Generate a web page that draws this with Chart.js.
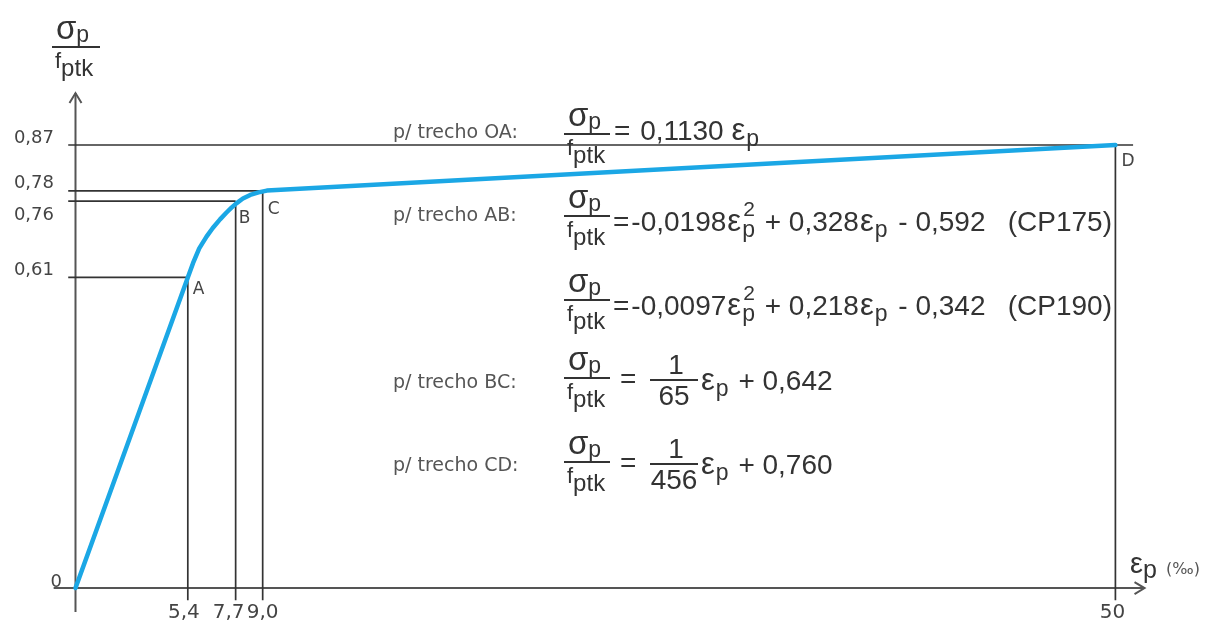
<!DOCTYPE html>
<html>
<head>
<meta charset="utf-8">
<script src="https://cdn.jsdelivr.net/npm/chart.js@4"></script>
<style>
  html, body { margin: 0; padding: 0; background: #fff; }
  #wrap { width: 1209px; height: 623px; }
</style>
</head>
<body>
<div id="wrap"><canvas id="c"></canvas></div>
<script>
// stress-strain curve (strain in per mille, stress ratio)
const curveX = [0, 5.4, 5.65, 5.95, 6.3, 6.6, 6.95, 7.25, 7.5, 7.75, 8.05, 8.4, 8.8, 9.2, 50];
const curveY = [0, 0.61, 0.638, 0.667, 0.69, 0.707, 0.724, 0.737, 0.747, 0.756, 0.765, 0.772, 0.777, 0.7805, 0.87];

// marked points
const pointNames = ['A', 'B', 'C', 'D'];
const pointX = [5.4, 7.7, 9.0, 50];
const pointY = [0.61, 0.76, 0.78, 0.87];

// tick labels
const xTickLabels = ['5,4', '7,7', '9,0', '50'];
const yTickLabels = ['0,61', '0,76', '0,78', '0,87'];
const originLabel = '0';

// equation texts
const sectionLabels = ['p/ trecho OA:', 'p/ trecho AB:', 'p/ trecho BC:', 'p/ trecho CD:'];
const coefOA = '0,1130';
const coefAB = ['-0,0198', '0,328', '0,592', '(CP175)'];
const coefAB2 = ['-0,0097', '0,218', '0,342', '(CP190)'];
const coefBC = ['65', '0,642'];
const coefCD = ['456', '0,760'];

const BLUE = '#1ba7e5';
const INK = '#333333';
const GREY = '#555555';
const SANS = '"Liberation Sans", Arial, sans-serif';
const DEJA = '"DejaVu Sans", sans-serif';

function line(x0, y0, x1, y1, color, width) {
  return {
    data: [{ x: x0, y: y0 }, { x: x1, y: y1 }],
    borderColor: color, borderWidth: width, pointRadius: 0,
    showLine: true, fill: false, order: 2
  };
}

const datasets = [{
  data: curveX.map((x, i) => ({ x: x, y: curveY[i] })),
  borderColor: BLUE, borderWidth: 4.5, pointRadius: 0,
  showLine: true, fill: false, tension: 0,
  borderJoinStyle: 'round', borderCapStyle: 'round', order: 0
}];

// guide lines from the axes to each point
pointX.forEach((x, i) => {
  datasets.push(line(-0.35, pointY[i], i === 3 ? 50.85 : x, pointY[i], INK, 1.7));
  datasets.push(line(x, -0.024, x, pointY[i], INK, 1.7));
});
// axes
datasets.push(line(-1.05, 0, 51.4, 0, GREY, 2));
datasets.push(line(0, -0.047, 0, 0.972, GREY, 2));

function font(ctx, size, fam) { ctx.font = size + 'px ' + (fam || SANS); }

function put(ctx, text, x, y, size, fam) {
  font(ctx, size, fam);
  ctx.fillText(text, x, y);
  return x + ctx.measureText(text).width;
}

function sigmaFrac(ctx, x, B, w) {
  ctx.fillRect(x, B - 1, w, 2);
  let xs = put(ctx, 'σ', x + 4, B - 8, 33);
  put(ctx, 'p', xs, B - 5, 23);
  let xf = put(ctx, 'f', x + 3, B + 21, 22);
  put(ctx, 'ptk', xf, B + 29, 24);
}

function eps(ctx, x, y, sup) {
  let xe = put(ctx, 'ε', x, y, 31) + 1;
  font(ctx, 23);
  let w = ctx.measureText('p').width;
  ctx.fillText('p', xe, y + 6);
  if (sup) {
    put(ctx, '2', xe + 1, y - 15, 21);
  }
  return xe + w;
}

function numFrac(ctx, x, B, w, bottom) {
  ctx.fillRect(x, B - 1, w, 2);
  font(ctx, 28);
  ctx.textAlign = 'center';
  ctx.fillText('1', x + w / 2 + 2, B - 6);
  ctx.fillText(bottom, x + w / 2, B + 25);
  ctx.textAlign = 'left';
}

const annotate = {
  id: 'annotate',
  afterDraw(chart) {
    const ctx = chart.ctx;
    const sx = chart.scales.x, sy = chart.scales.y;
    ctx.save();

    // arrow heads
    ctx.strokeStyle = GREY; ctx.lineWidth = 2;
    const ox = sx.getPixelForValue(0), ty = sy.getPixelForValue(0.972);
    const ex = sx.getPixelForValue(51.4), oy = sy.getPixelForValue(0);
    ctx.beginPath();
    ctx.moveTo(ox - 6, ty + 10); ctx.lineTo(ox, ty); ctx.lineTo(ox + 6, ty + 10);
    ctx.moveTo(ex - 10, oy - 6); ctx.lineTo(ex, oy); ctx.lineTo(ex - 10, oy + 6);
    ctx.stroke();

    // tick labels
    ctx.fillStyle = '#444';
    font(ctx, 18, DEJA);
    ctx.textAlign = 'right';
    const yShift = [-2, 19, -3, -2];
    yTickLabels.forEach((t, i) => ctx.fillText(t, 54, sy.getPixelForValue(pointY[i]) + yShift[i]));
    ctx.fillText(originLabel, 62, oy - 1);
    font(ctx, 20, DEJA);
    ctx.textAlign = 'center';
    const xShift = [-4, -7, 0, -3];
    xTickLabels.forEach((t, i) => ctx.fillText(t, sx.getPixelForValue(pointX[i]) + xShift[i], 618));

    // point names
    font(ctx, 17, DEJA);
    ctx.textAlign = 'left';
    const nOff = [[5, 17], [3, 22], [5, 23], [6, 21]];
    pointNames.forEach((n, i) => ctx.fillText(n, sx.getPixelForValue(pointX[i]) + nOff[i][0], sy.getPixelForValue(pointY[i]) + nOff[i][1]));

    // axis titles
    ctx.fillStyle = INK;
    sigmaFrac(ctx, 52, 47, 48);
    let xe = put(ctx, 'ε', 1130, 573, 29);
    put(ctx, 'p', xe, 578, 25);
    ctx.fillStyle = GREY;
    put(ctx, '(‰)', 1166, 574, 16, DEJA);

    // section labels
    ctx.fillStyle = GREY;
    font(ctx, 19, DEJA);
    ctx.textBaseline = 'middle';
    [133, 216, 383, 466].forEach((y, i) => ctx.fillText(sectionLabels[i], 393, y, 145));
    ctx.textBaseline = 'alphabetic';

    ctx.fillStyle = INK;
    // OA
    sigmaFrac(ctx, 564, 134, 46);
    let x = put(ctx, '= ', 614, 140, 28);
    x = put(ctx, coefOA + ' ', x + 2, 140, 28);
    eps(ctx, x, 140, false);

    // AB (two cements)
    [[216, coefAB], [300, coefAB2]].forEach(([B, c]) => {
      sigmaFrac(ctx, 564, B, 46);
      const y = B + 15;
      let x = put(ctx, '=', 613, y, 28);
      x = put(ctx, c[0], x + 2, y, 28);
      x = eps(ctx, x + 1, y, true);
      x = put(ctx, ' + ' + c[1], x + 2, y, 28);
      x = eps(ctx, x + 1, y, false);
      put(ctx, ' - ' + c[2], x + 3, y, 28);
      font(ctx, 28);
      ctx.textAlign = 'right';
      ctx.fillText(c[3], 1112, y);
      ctx.textAlign = 'left';
    });

    // BC, CD
    [[378, coefBC], [462, coefCD]].forEach(([B, c]) => {
      sigmaFrac(ctx, 564, B, 46);
      const y = B + 12;
      put(ctx, '=', 620, y - 2, 28);
      numFrac(ctx, 650, B + 2, 48, c[0]);
      let x = eps(ctx, 701, y, false);
      put(ctx, ' + ' + c[1], x + 2, y, 28);
    });

    ctx.restore();
  }
};

new Chart(document.getElementById('c'), {
  type: 'scatter',
  data: { datasets: datasets },
  options: {
    responsive: true,
    maintainAspectRatio: false,
    animation: false,
    layout: { padding: 0 },
    plugins: { legend: { display: false }, tooltip: { enabled: false } },
    scales: {
      x: { type: 'linear', min: -3.63, max: 54.5, display: false },
      y: { type: 'linear', min: -0.0687, max: 1.1548, display: false }
    }
  },
  plugins: [annotate]
});
</script>
</body>
</html>
